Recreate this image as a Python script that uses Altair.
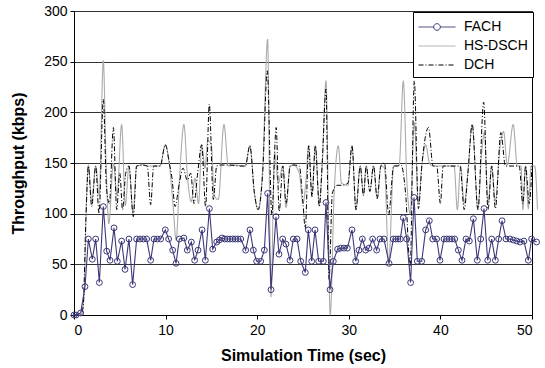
import altair as alt
import pandas as pd

FONT = "Liberation Sans"

series_names = ["FACH", "HS-DSCH", "DCH"]
series_colors = ["#3a3878", "#ababab", "#000000"]
series_dash = [[1, 0], [1, 0], [5, 2, 1, 2]]

x_ticks = [0, 10, 20, 30, 40, 50]
y_ticks = [0, 50, 100, 150, 200, 250, 300]

# (time [s], throughput [kbps])
fach = [
    (0, 0), (0.22, 0), (0.73, 2), (1.2, 28), (1.57, 75), (2.0, 55), (2.37, 75),
    (2.77, 32), (3.2, 107), (3.57, 63), (3.93, 54), (4.37, 86), (4.73, 53),
    (5.2, 73), (5.57, 45), (6.0, 75), (6.4, 30), (6.84, 75), (7.2, 75),
    (7.57, 75), (7.93, 75), (8.37, 54), (8.73, 75), (9.1, 75), (9.46, 75),
    (9.97, 84), (10.33, 75), (10.77, 64), (11.14, 51), (11.5, 75), (12.0, 76),
    (12.37, 64), (12.81, 72), (13.17, 54), (13.54, 64), (13.98, 84), (14.34, 54),
    (14.78, 105), (15.14, 65), (15.58, 72), (15.87, 74), (16.16, 76), (16.45, 75),
    (16.74, 75), (17.03, 75), (17.32, 75), (17.61, 75), (17.9, 75), (18.2, 75),
    (18.74, 64), (19.21, 84), (19.58, 64), (19.94, 53), (20.38, 53), (20.78, 64),
    (21.14, 120), (21.51, 25), (22.05, 97), (22.38, 60), (22.78, 75), (23.14, 70),
    (23.58, 54), (23.94, 75), (24.35, 75), (24.75, 53), (25.25, 42), (25.58, 84),
    (25.95, 53), (26.31, 84), (26.71, 53), (27.22, 53), (27.51, 111), (27.95, 25),
    (28.31, 53), (28.78, 65), (29.11, 66), (29.47, 66), (29.84, 66), (30.35, 84),
    (30.75, 53), (31.11, 64), (31.48, 75), (31.84, 64), (32.2, 66), (32.6, 75),
    (33.04, 64), (33.4, 75), (33.84, 75), (34.39, 51), (34.86, 75), (35.12, 75),
    (35.37, 75), (35.63, 75), (35.95, 96), (36.32, 75), (36.75, 32), (37.12, 116),
    (37.48, 53), (37.96, 53), (38.39, 84), (38.79, 93), (39.16, 75), (39.59, 75),
    (39.95, 54), (40.39, 75), (40.68, 75), (40.97, 75), (41.26, 75), (41.56, 75),
    (41.96, 64), (42.36, 54), (42.79, 75), (43.16, 73), (43.6, 95), (44.03, 54),
    (44.4, 75), (44.76, 105), (45.16, 54), (45.6, 75), (46.0, 54), (46.36, 75),
    (46.73, 93), (47.16, 75), (47.6, 75), (47.96, 74), (48.33, 73), (48.69, 72),
    (49.12, 73), (49.6, 54), (49.96, 75), (50.5, 72),
]

hsdsch = [
    (0, 0), (0.8, 0), (1.1, 20), (1.35, 110), (1.57, 148), (1.93, 112), (2.37, 147),
    (2.75, 118), (3.2, 251), (3.5, 150), (3.8, 90), (4.3, 150), (4.7, 118),
    (5.2, 188), (5.6, 108), (6.0, 147), (6.45, 100), (6.84, 147), (7.5, 148),
    (8.0, 147), (8.7, 147), (9.4, 147), (9.97, 168), (10.4, 150), (10.8, 110),
    (11.15, 74), (11.55, 140), (12.0, 188), (12.4, 135), (12.8, 112), (13.2, 135),
    (13.6, 110), (13.94, 168), (14.3, 145), (14.6, 172), (15.0, 168), (15.3, 118),
    (15.76, 114), (16.37, 188), (16.85, 147), (17.5, 148), (18.7, 147), (19.2, 167),
    (19.7, 120), (20.1, 104), (20.6, 145), (21.14, 272), (21.5, 18), (21.9, 160),
    (22.3, 130), (22.8, 147), (23.15, 106), (23.6, 147), (24.0, 148), (24.6, 140),
    (25.0, 110), (25.3, 130), (25.62, 167), (25.98, 117), (26.35, 167), (26.78, 110),
    (27.1, 150), (27.51, 231), (27.97, 0), (28.4, 120), (28.86, 167), (29.2, 130),
    (29.9, 128), (30.35, 167), (30.78, 104), (31.25, 147), (31.6, 118), (31.9, 147),
    (32.3, 122), (32.7, 147), (33.1, 115), (33.5, 147), (33.9, 145), (34.35, 50),
    (34.9, 147), (35.5, 148), (35.95, 231), (36.35, 130), (36.7, 100), (37.15, 190),
    (37.6, 110), (38.0, 150), (38.4, 168), (38.8, 150), (39.2, 147), (40.0, 147),
    (41.0, 147), (41.5, 147), (41.85, 104), (42.2, 147), (42.6, 110), (43.0, 140),
    (43.47, 188), (44.1, 104), (44.5, 160), (44.8, 180), (45.2, 110), (45.6, 147),
    (46.0, 112), (46.5, 165), (46.9, 181), (47.3, 148), (47.95, 188), (48.4, 147),
    (48.8, 147), (49.0, 104), (49.3, 147), (49.6, 105), (49.9, 147), (50.3, 147),
    (50.6, 104),
]

dch = [
    (0, 0), (0.7, 0), (1.0, 8), (1.3, 95), (1.57, 147), (1.93, 107), (2.37, 147),
    (2.73, 100), (3.2, 213), (3.55, 125), (3.86, 110), (4.3, 185), (4.66, 104),
    (5.0, 140), (5.3, 104), (5.65, 140), (6.0, 147), (6.48, 97), (6.84, 147),
    (7.5, 148), (8.0, 147), (8.37, 109), (8.7, 147), (9.4, 147), (9.97, 168),
    (10.4, 150), (10.7, 135), (11.03, 107), (11.5, 130), (11.9, 145), (12.37, 133),
    (12.74, 140), (13.1, 110), (13.5, 140), (13.94, 168), (14.37, 107), (14.77, 208),
    (15.21, 114), (15.58, 147), (16.0, 148), (17.0, 148), (18.0, 147), (18.7, 147),
    (19.2, 167), (19.7, 120), (20.1, 104), (20.6, 140), (21.1, 241), (21.6, 99),
    (22.07, 185), (22.4, 102), (22.8, 147), (23.15, 110), (23.6, 147), (24.0, 148),
    (24.6, 147), (25.0, 110), (25.25, 85), (25.62, 167), (25.98, 117), (26.35, 167),
    (26.78, 107), (27.1, 150), (27.51, 223), (27.85, 35), (28.2, 120), (28.7, 128),
    (29.2, 128), (29.9, 130), (30.35, 167), (30.78, 104), (31.25, 147), (31.6, 118),
    (31.9, 147), (32.3, 122), (32.7, 147), (33.1, 115), (33.5, 147), (33.9, 150),
    (34.35, 99), (34.9, 147), (35.3, 147), (35.7, 148), (36.2, 120), (36.7, 48),
    (37.15, 231), (37.6, 105), (38.0, 150), (38.7, 185), (39.2, 147), (39.6, 147),
    (40.0, 110), (40.3, 147), (41.0, 147), (41.8, 147), (42.15, 147), (42.6, 104),
    (43.0, 140), (43.47, 188), (44.1, 104), (44.72, 210), (45.2, 104), (45.6, 147),
    (46.0, 105), (46.6, 180), (47.1, 147), (47.6, 147), (48.2, 147), (48.6, 147),
    (49.0, 110), (49.3, 147), (49.7, 110), (50.0, 147),
]

rows = []
for name, pts in zip(series_names, [fach, hsdsch, dch]):
    for t, v in pts:
        rows.append({"t": t, "v": v, "series": name})
df = pd.DataFrame(rows)

path_line = "M-2,0L2,0"
path_fach = ("M-2,0L-0.36,0M0.36,0L2,0M0.36,0A0.36,0.36 0 1 1 -0.36,0"
             "A0.36,0.36 0 1 1 0.36,0Z")

legend = alt.Legend(
    title=None, orient="none", legendX=339, legendY=1, direction="vertical",
    strokeColor="black", fillColor="white", padding=5, cornerRadius=0,
    symbolSize=342, symbolStrokeWidth=1, symbolOffset=9, symbolFillColor="white",
    symbolOpacity=1,
    labelOffset=17, labelFont=FONT, labelFontSize=14, labelColor="black",
    rowPadding=2, labelLimit=200,
)

x_enc = alt.X(
    "t:Q",
    scale=alt.Scale(domain=[0, 50], nice=False, zero=False),
    axis=alt.Axis(values=x_ticks, title="Simulation Time (sec)", grid=False,
                  tickSize=4, labelPadding=4, titlePadding=10, format="d"),
)
y_enc = alt.Y(
    "v:Q",
    scale=alt.Scale(domain=[0, 300], nice=False),
    axis=alt.Axis(values=y_ticks, title="Throughput (kbps)", grid=True,
                  tickSize=4, labelPadding=3, titlePadding=17, format="d"),
)
color_enc = alt.Color("series:N", scale=alt.Scale(domain=series_names, range=series_colors),
                      legend=legend)
dash_enc = alt.StrokeDash("series:N", scale=alt.Scale(domain=series_names, range=series_dash),
                          legend=legend)

base = alt.Chart(df)


def line_layer(name, width):
    return base.transform_filter(alt.datum.series == name).mark_line(
        strokeWidth=width, interpolate="monotone" if name != "FACH" else "linear"
    ).encode(x=x_enc, y=y_enc, color=color_enc, strokeDash=dash_enc)


legend_shapes = base.transform_filter("false").mark_point(filled=False, opacity=1).encode(
    x=x_enc, y=y_enc,
    shape=alt.Shape("series:N", scale=alt.Scale(domain=series_names,
                                                range=[path_fach, path_line, path_line]),
                    legend=legend),
)

fach_points = base.transform_filter(alt.datum.series == "FACH").mark_point(
    shape="circle", filled=False, size=34, strokeWidth=1, color=series_colors[0], opacity=1
).encode(x=x_enc, y=y_enc)

chart = alt.layer(
    line_layer("HS-DSCH", 1.1),
    line_layer("DCH", 1.0),
    line_layer("FACH", 1.1),
    fach_points,
    legend_shapes,
).properties(
    width=458, height=304,
    autosize=alt.AutoSizeParams(type="none"),
    padding={"left": 74, "top": 11, "right": 13, "bottom": 53},
    background="white",
).configure_view(
    stroke="black", strokeWidth=1
).configure_axis(
    labelFont=FONT, labelFontSize=14, labelColor="black",
    titleFont=FONT, titleFontSize=16, titleFontWeight="bold", titleColor="black",
    domainColor="black", domainWidth=1, tickColor="black", tickWidth=1,
    gridColor="#333333", gridWidth=1, gridOpacity=1,
)

chart.save("out.html", embed_options={"renderer": "svg", "actions": False})
